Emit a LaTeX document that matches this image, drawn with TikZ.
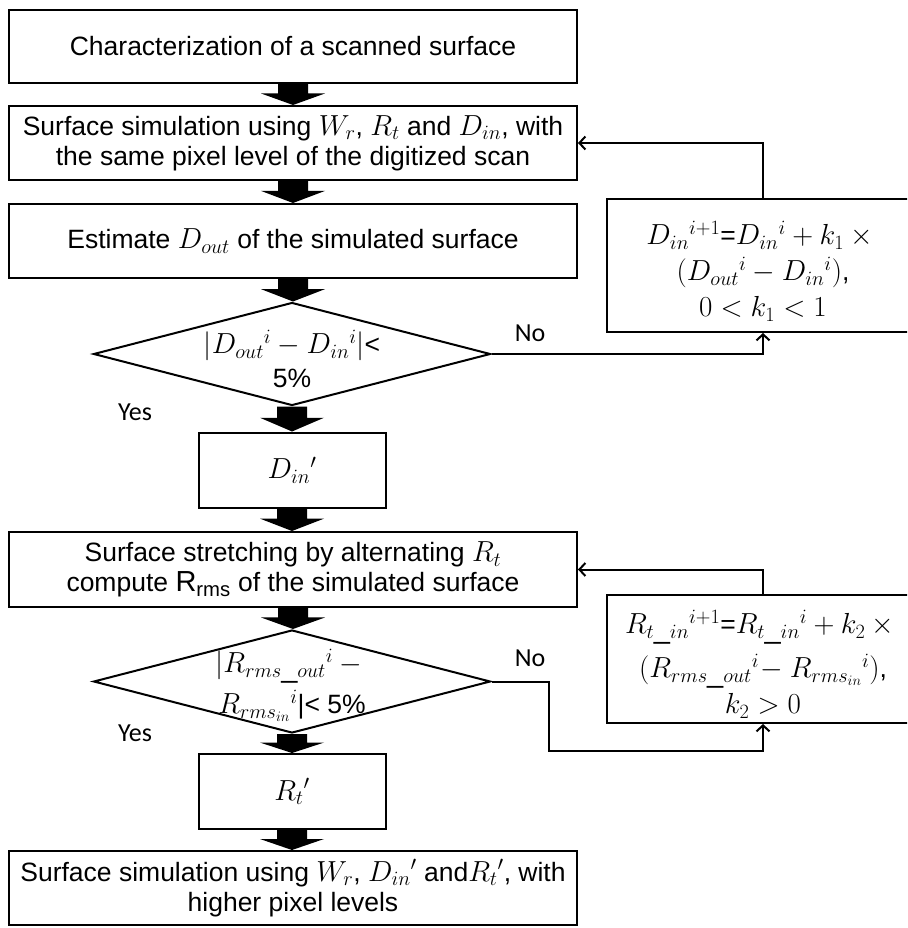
\RequirePackage{fix-cm}
\documentclass[tikz,border=0pt]{standalone}
\usepackage{fontspec}
\setmainfont{Liberation Sans}
\newfontfamily\calibri{Carlito}
\usetikzlibrary{shapes.geometric,arrows.meta,calc}
\newcommand\mm[1]{{\fontsize{29}{30}\selectfont$#1$}}
\begin{document}
\begin{tikzpicture}[x=1pt,y=-1pt,
  txt/.style={font=\fontsize{26.5}{30}\selectfont},
  box/.style={draw, line width=2pt, minimum width=568pt, align=center, inner sep=0pt, txt},
  smallbox/.style={draw, line width=2pt, minimum width=187pt, minimum height=75pt, inner sep=0pt, txt},
  fbox/.style={draw, line width=2pt, minimum width=312pt, minimum height=120pt, inner sep=0pt},
  ftext/.style={align=center, inner sep=0pt, font=\fontsize{26.5}{36}\selectfont},
  dia/.style={draw, line width=2pt, diamond, shape aspect=3.85, minimum width=397pt, minimum height=103pt, inner sep=0pt},
  dtext/.style={align=center, inner sep=0pt, font=\fontsize{26.5}{34}\selectfont},
  lbl/.style={inner sep=0pt, font=\calibri\fontsize{26}{30}\selectfont},
  conn/.style={line width=2pt, -{Straight Barb[length=6pt,width=13pt,line width=2pt]}}
]
\clip (0,0) rectangle (907,928);
\fill[white] (0,0) rectangle (907,928);

\node[box, minimum height=73pt] (b1) at (293,46.5) {Characterization of a scanned surface};
\node[box, minimum height=74pt] (b2) at (293,143) {Surface simulation using \mm{W_r}, \mm{R_t} and \mm{D_{in}}, with\\the same pixel level of the digitized scan};
\node[box, minimum height=74pt] (b3) at (293,241) {Estimate \mm{D_{out}} of the simulated surface};
\node[dia] (d1) at (292,354) {};
\node[dtext] (d1t) at (292,359) {\mm{\bigl|D_{out}{}^{i}-D_{in}{}^{i}\bigr|}<\\5\%};
\node[smallbox] (b4) at (292,470) {\mm{D_{in}{}'}};
\node[box, minimum height=75pt] (b5) at (293,569.5) {Surface stretching by alternating \mm{R_t}\\compute \mm{\mathrm{R_{rms}}} of the simulated surface};
\node[dia] (d2) at (292,681.5) {};
\node[dtext] (d2t) at (292,685) {\mm{|R_{rms\_out}{}^{i}-{}}\\[7pt]\mm{R_{rms_{in}}{}^{i}}|< 5\%};
\node[smallbox] (b6) at (292,791.5) {\mm{R_t{}'}};
\node[box, minimum height=74pt] (b7) at (293,888) {Surface simulation using \mm{W_r}, \mm{D_{in}{}'} and\mm{R_t{}'}, with\\higher pixel levels};

\node[fbox, minimum height=133pt] (fb1) at (763,265.5) {};
\node[ftext] (fb1t) at (763,271) {\mm{D_{in}{}^{i+1}}=\mm{D_{in}{}^{i}+k_1\times{}}\\\mm{\bigl(D_{out}{}^{i}-D_{in}{}^{i}\bigr)},\\\mm{0<k_1<1}};
\node[fbox, minimum height=128pt] (fb2) at (763,659) {};
\node[ftext] (fb2t) at (763,664) {\mm{R_{t\_in}{}^{i+1}}=\mm{R_{t\_in}{}^{i}+k_2\times{}}\\[8pt]\mm{(R_{rms\_out}{}^{i}\!-R_{rms_{in}}{}^{i})},\\\mm{k_2>0}};

\node[lbl] (no1) at (530,333) {No};
\node[lbl] (yes1) at (135,412) {Yes};
\node[lbl] (no2) at (530,658) {No};
\node[lbl] (yes2) at (135,733) {Yes};

% block arrows
\foreach \a/\b in {b1/b2, b2/b3, b3/d1, d1/b4, b4/b5, b5/d2, d2/b6, b6/b7} {
  \fill let \p1=(\a.south), \p2=(\b.north), \n1={(\y1-\y2)*0.45} in
    (\x1-15pt,\y1) -- (\x1+15pt,\y1) -- (\x1+15pt,\y1-\n1) -- (\x1+32pt,\y1-\n1)
    -- (\x1,\y2) -- (\x1-32pt,\y1-\n1) -- (\x1-15pt,\y1-\n1) -- cycle;
}

% connectors
\draw[conn] (fb1.north) |- (b2.east);
\draw[conn] (d1.east) -| (fb1.south);
\draw[conn] (fb2.north) |- (b5.east);
\coordinate (k) at (549,751);
\draw[conn] (d2.east) -| (k) -| (fb2.south);
\end{tikzpicture}
\end{document}
